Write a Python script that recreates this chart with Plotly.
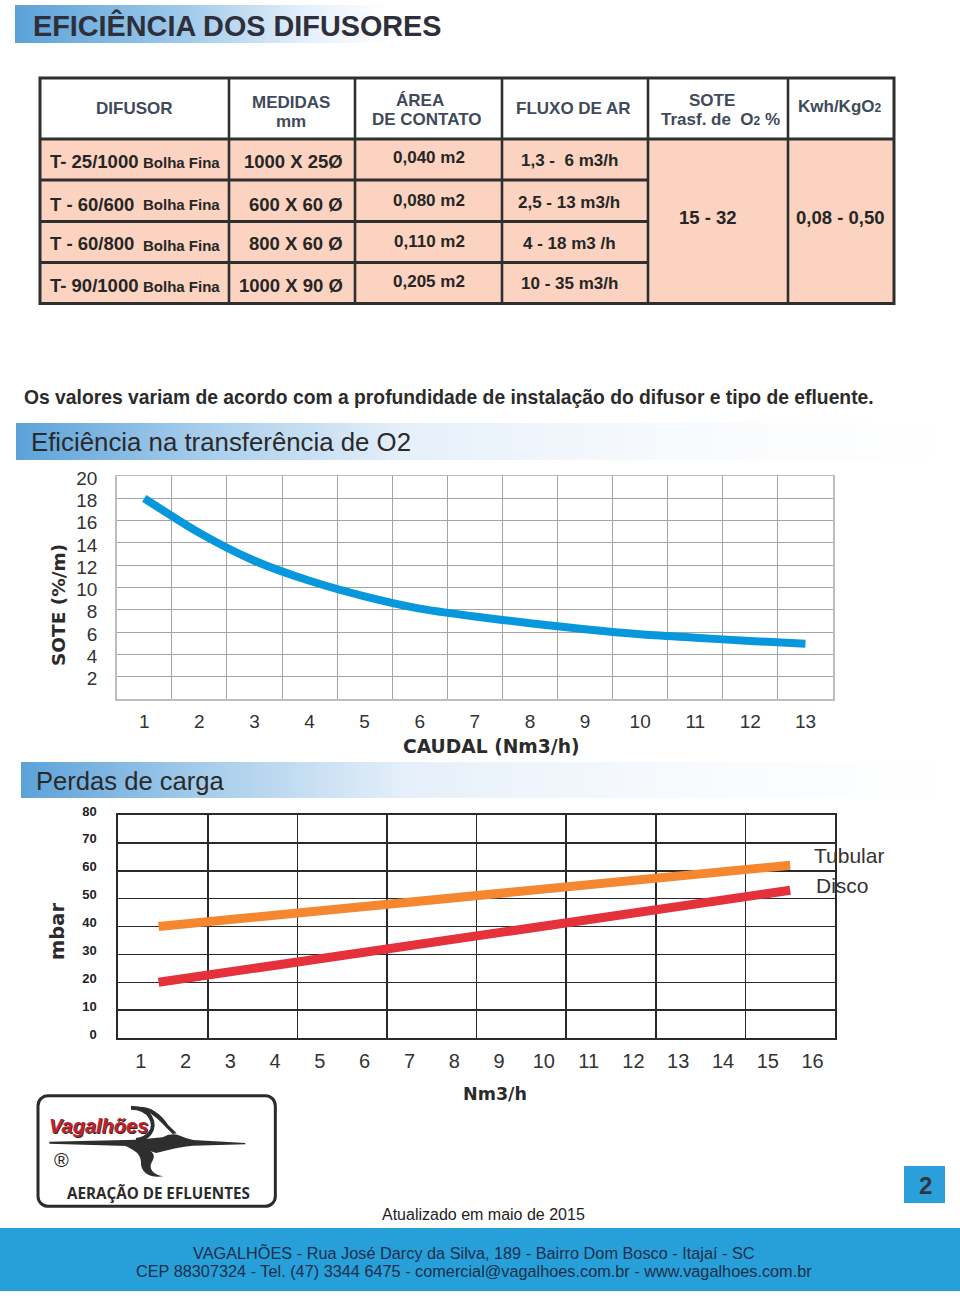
import base64
import plotly.graph_objects as go

W, H = 960, 1296

# ---------------- data ----------------
caudal = list(range(1, 14))
sote_pct = [18.0, 14.9, 12.4, 10.6, 9.2, 8.1, 7.4, 6.8, 6.25, 5.8, 5.5, 5.2, 4.95]
sote_ticks = [2, 4, 6, 8, 10, 12, 14, 16, 18, 20]

vazao = [1.4, 15.5]
perda_tubular = [40, 62]
perda_disco = [20, 53]
perda_xticks = list(range(1, 17))
perda_yticks = [0, 10, 20, 30, 40, 50, 60, 70, 80]

difusor_codes = ["T- 25/1000", "T - 60/600", "T - 60/800", "T- 90/1000"]
difusor_tipo = ["Bolha Fina", "Bolha Fina", "Bolha Fina", "Bolha Fina"]
medidas = ["1000 X 25Ø", "600 X 60 Ø", "800 X 60 Ø", "1000 X 90 Ø"]
areas = ["0,040 m2", "0,080 m2", "0,110 m2", "0,205 m2"]
fluxos = ["1,3 -  6 m3/h", "2,5 - 13 m3/h", "4 - 18 m3 /h", "10 - 35 m3/h"]
sote_faixa = "15 - 32"
kwh_faixa = "0,08 - 0,50"

SANS = "Liberation Sans, Arial, Helvetica, sans-serif"
WIDE = "DejaVu Sans, Verdana, sans-serif"


def X(x):
    return x / W


def Y(y):
    return 1 - y / H


shapes = []
annotations = []
images = []


def rect(x0, y0, x1, y1, fill=None, lc=None, lw=0, layer="below"):
    shapes.append(dict(type="rect", xref="paper", yref="paper",
                       x0=X(x0), x1=X(x1), y0=Y(y1), y1=Y(y0),
                       fillcolor=fill or "rgba(0,0,0,0)",
                       line=dict(color=lc or "rgba(0,0,0,0)", width=lw),
                       layer=layer))


def seg(x0, y0, x1, y1, lc="#2f2f2f", lw=3):
    shapes.append(dict(type="line", xref="paper", yref="paper",
                       x0=X(x0), x1=X(x1), y0=Y(y0), y1=Y(y1),
                       line=dict(color=lc, width=lw), layer="above"))


def txt(x, y, s, size, color="#2b2b2b", weight="normal", xanchor="center",
        family=SANS, style="normal", angle=0):
    annotations.append(dict(xref="paper", yref="paper", x=X(x), y=Y(y), text=s,
                            showarrow=False, xanchor=xanchor, yanchor="middle",
                            font=dict(family=family, size=size, color=color,
                                      weight=weight, style=style),
                            textangle=angle, borderpad=0))


def svg_uri(svg):
    return "data:image/svg+xml;base64," + base64.b64encode(svg.encode("utf-8")).decode("ascii")


def grad_image(x0, y0, x1, y1, stops):
    w, h = x1 - x0, y1 - y0
    st = "".join(f'<stop offset="{o}" stop-color="{c}"/>' for o, c in stops)
    svg = (f'<svg xmlns="http://www.w3.org/2000/svg" width="{w}" height="{h}" '
           f'viewBox="0 0 {w} {h}" preserveAspectRatio="none"><defs>'
           f'<linearGradient id="g" x1="0" y1="0" x2="1" y2="0">{st}</linearGradient>'
           f'</defs><rect width="{w}" height="{h}" fill="url(#g)"/></svg>')
    images.append(dict(source=svg_uri(svg), xref="paper", yref="paper",
                       x=X(x0), y=Y(y0), sizex=w / W, sizey=h / H,
                       xanchor="left", yanchor="top", sizing="stretch", layer="below"))


# ---------------- banners ----------------
grad_image(15, 5, 480, 43, [(0, "#5ba2d9"), (0.35, "#9cc8ea"), (0.62, "#e3effa"), (0.8, "#ffffff"), (1, "#ffffff")])
txt(32, 25, "EFICIÊNCIA DOS DIFUSORES", 28.8, "#2e2f3a", "bold", "left")

grad_image(16, 423, 945, 460, [(0, "#5ba2d9"), (0.2, "#a7cdeb"), (0.42, "#e6f0fa"), (0.7, "#f7fafd"), (1, "#ffffff")])
txt(30, 442, "Eficiência na transferência de O2", 25.8, "#2a2a2a", "normal", "left")

grad_image(21, 762, 945, 798, [(0, "#5ba2d9"), (0.2, "#a7cdeb"), (0.42, "#e6f0fa"), (0.7, "#f7fafd"), (1, "#ffffff")])
txt(35, 781, "Perdas de carga", 25.6, "#2a2a2a", "normal", "left")

# ---------------- table ----------------
col_x = [40, 229, 355, 502, 648, 788, 894]
row_y = [78, 139, 180, 221.5, 262.5, 303.5]
rect(col_x[0], row_y[1], col_x[-1], row_y[-1], fill="#fbd3c0")
rect(col_x[0], row_y[0], col_x[-1], row_y[-1], lc="#2f2f2f", lw=3, layer="above")
for cx in col_x[1:-1]:
    seg(cx, row_y[0], cx, row_y[-1], lw=2.6)
seg(col_x[0], row_y[1], col_x[-1], row_y[1], lw=3)
for ry in row_y[2:-1]:
    seg(col_x[0], ry, col_x[4], ry, lw=3)

HC = "#404a5a"
txt(134, 108, "DIFUSOR", 17, HC, "bold")
txt(291, 103, "MEDIDAS", 17, HC, "bold")
txt(291, 122, "mm", 17, HC, "bold")
txt(420, 101, "ÁREA", 17, HC, "bold")
txt(427, 120, "DE CONTATO", 17, HC, "bold")
txt(573, 108, "FLUXO DE AR", 17, HC, "bold")
txt(712, 100, "SOTE", 17, HC, "bold")
txt(720, 119, "Trasf. de  O<span style='font-size:12px'>2</span> %", 17, HC, "bold")
txt(840, 107, "Kwh/KgO<span style='font-size:12px'>2</span>", 17, HC, "bold")

BC = "#262626"
row_text_y = [161, 204, 244, 285]
for i in range(4):
    ty = row_text_y[i]
    txt(49, ty, difusor_codes[i], 18.5, BC, "bold", "left")
    txt(221, ty + 1, difusor_tipo[i], 15, BC, "bold", "right")
    txt(344, ty, medidas[i], 18.5, BC, "bold", "right")
    txt(429, ty - 3, areas[i], 17, BC, "bold")
    txt(569, ty - 1, fluxos[i], 17, BC, "bold")
txt(708, 218, sote_faixa, 18.5, BC, "bold")
txt(840, 218, kwh_faixa, 18.5, BC, "bold")

txt(23, 398, "Os valores variam de acordo com a profundidade de instalação do difusor e tipo de efluente.",
    19.3, "#2b2b2b", "bold", "left")

# ---------------- chart labels ----------------
txt(58, 605, "SOTE (%/m)", 18.5, "#2b2b2b", "bold", family=WIDE, angle=-90)
txt(491, 747, "CAUDAL (Nm3/h)", 18.7, "#2b2b2b", "bold", family=WIDE)
txt(57, 932, "mbar", 19.5, "#2b2b2b", "bold", family=WIDE, angle=-90)
txt(495, 1094, "Nm3/h", 17.5, "#2b2b2b", "bold", family=WIDE)
txt(813, 855, "Tubular", 21, "#333333", "normal", "left")
txt(815, 885, "Disco", 21, "#333333", "normal", "left")

# ---------------- logo ----------------
logo_svg = (
    '<svg xmlns="http://www.w3.org/2000/svg" width="726" height="348" viewBox="0 0 726 348">'
    '<rect x="6" y="8" width="712" height="332" rx="30" fill="#ffffff" stroke="#2b2b2b" stroke-width="9"/>'
    '<path d="M40,146 L300,140 L380,133 Q405,118 432,128 Q452,137 472,141 L628,150 L628,154 L470,158 '
    'Q430,162 400,170 L360,180 Q330,170 300,160 L40,152 Z" fill="#2e2e2e"/>'
    '<path d="M285,44 C345,44 362,95 342,120 C332,134 316,140 300,141" fill="none" stroke="#2e2e2e" stroke-width="12"/>'
    '<path d="M300,42 C342,38 372,60 396,95 L422,121 L410,123 C386,100 362,70 330,54 Z" fill="#2e2e2e"/>'
    '<path d="M300,158 C352,168 362,186 348,206 C336,226 350,244 382,250 C340,257 314,236 315,210 '
    'C315,186 300,172 268,160 Z" fill="#2e2e2e"/>'
    '</svg>'
)
images.append(dict(source=svg_uri(logo_svg), xref="paper", yref="paper",
                   x=X(36), y=Y(1093), sizex=242 / W, sizey=116 / H,
                   xanchor="left", yanchor="top", sizing="stretch", layer="above"))
annotations.append(dict(xref="paper", yref="paper", x=X(48), y=Y(1126), text="Vagalhões",
                        showarrow=False, xanchor="left", yanchor="middle", borderpad=0,
                        font=dict(family=SANS, size=20, color="#c81e2a", weight="bold",
                                  style="italic", shadow="1px 1px 0px #2a2a2a")))
txt(61, 1160, "®", 20, "#222222", "normal")
txt(158, 1193, "AERAÇÃO DE EFLUENTES", 15.2, "#2b2b2b", "bold", family="Open Sans, Liberation Sans, sans-serif")

# ---------------- page number / footer ----------------
rect(904, 1166, 945, 1203, fill="#2b9fd9")
txt(925, 1185, "2", 24, "#2f3440", "bold")
txt(483, 1214, "Atualizado em maio de 2015", 16, "#222222")
rect(0, 1228, 960, 1291, fill="#27a0da")
txt(474, 1252, "VAGALHÕES - Rua José Darcy da Silva, 189 - Bairro Dom Bosco - Itajaí - SC", 16.3, "#1d2e4a")
txt(474, 1271, "CEP 88307324 - Tel. (47) 3344 6475 - comercial@vagalhoes.com.br - www.vagalhoes.com.br", 16.3, "#1d2e4a")

# ---------------- figure ----------------
fig = go.Figure()
fig.add_trace(go.Scatter(x=caudal, y=sote_pct, mode="lines", xaxis="x", yaxis="y",
                         line=dict(color="#0797dc", width=8, shape="spline", smoothing=0.8),
                         hoverinfo="skip", name="SOTE"))
fig.add_trace(go.Scatter(x=vazao, y=perda_tubular, mode="lines", xaxis="x2", yaxis="y2",
                         line=dict(color="#f4872f", width=9), hoverinfo="skip", name="Tubular"))
fig.add_trace(go.Scatter(x=vazao, y=perda_disco, mode="lines", xaxis="x2", yaxis="y2",
                         line=dict(color="#e5313b", width=9), hoverinfo="skip", name="Disco"))

grid1 = "#a3a3a3"
grid2 = "#2a2a2a"
fig.update_layout(
    width=W, height=H, autosize=False,
    margin=dict(l=0, r=0, t=0, b=0, pad=0),
    paper_bgcolor="white", plot_bgcolor="white",
    showlegend=False,
    xaxis=dict(domain=[X(116.7), X(833)], range=[0.5, 13.5], anchor="y", automargin=False,
               tickmode="array", tickvals=caudal, showgrid=False, zeroline=False,
               showline=True, linecolor="#bdbdbd", linewidth=1.5, mirror=True, ticks="",
               tickfont=dict(family=SANS, size=19, color="#333333"), ticklabelstandoff=5,
               minor=dict(tickmode="array", tickvals=[c - 0.5 for c in caudal] + [caudal[-1] + 0.5],
                          showgrid=True, gridcolor=grid1, gridwidth=1, ticks=""),
               fixedrange=True),
    yaxis=dict(domain=[Y(699), Y(476)], range=[0, 20], anchor="x", automargin=False,
               tickmode="array", tickvals=sote_ticks, showgrid=True, gridcolor=grid1, gridwidth=1,
               zeroline=False, showline=True, linecolor="#bdbdbd", linewidth=1.5, mirror=True, ticks="",
               tickfont=dict(family=SANS, size=19, color="#333333"), ticklabelstandoff=14,
               ticklabelshift=2, fixedrange=True),
    xaxis2=dict(domain=[X(118.3), X(835)], range=[0.5, 16.5], anchor="y2", automargin=False,
                tickmode="array", tickvals=perda_xticks, showgrid=False, zeroline=False,
                showline=True, linecolor=grid2, linewidth=2, mirror=True, ticks="",
                tickfont=dict(family=SANS, size=20, color="#333333"), ticklabelstandoff=4,
                minor=dict(tickmode="array", tickvals=[t - 0.5 for t in perda_xticks[::2]] + [perda_xticks[-1] + 0.5],
                           showgrid=True, gridcolor=grid2, gridwidth=1.5, ticks=""),
                fixedrange=True),
    yaxis2=dict(domain=[Y(1038), Y(815)], range=[0, 80], anchor="x2", automargin=False,
                tickmode="array", tickvals=perda_yticks, showgrid=True, gridcolor=grid2, gridwidth=1.5,
                zeroline=False, showline=True, linecolor=grid2, linewidth=2, mirror=True, ticks="",
                tickfont=dict(family=SANS, size=13, color="#222222", weight="bold"),
                ticklabelstandoff=17, ticklabelshift=-4, fixedrange=True),
    shapes=shapes,
    annotations=annotations,
    images=images,
)

fig.write_html("out.html", config={"displayModeBar": False, "staticPlot": True})
